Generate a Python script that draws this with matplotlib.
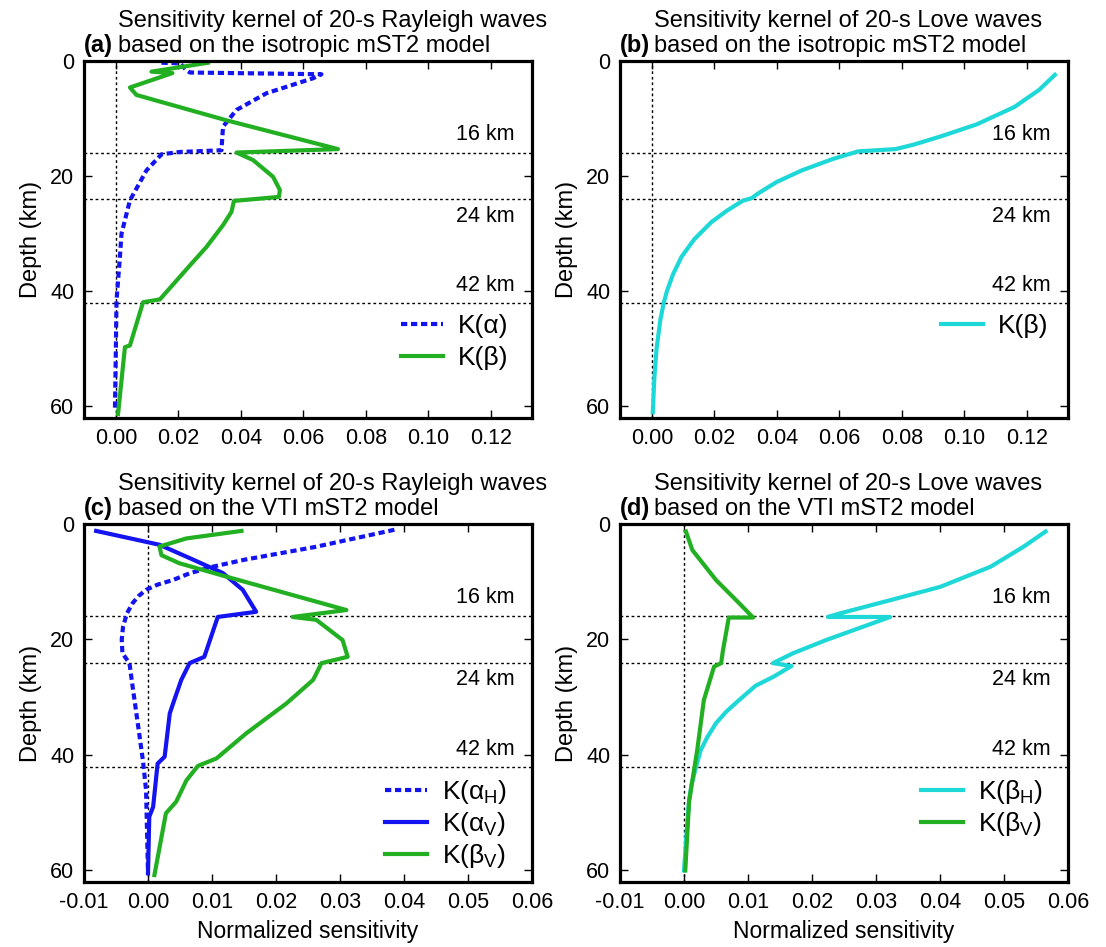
import matplotlib
matplotlib.use("Agg")
import matplotlib.pyplot as plt
import matplotlib.transforms as mtransforms

plt.rcParams['font.family'] = ['Liberation Sans', 'DejaVu Sans']
plt.rcParams['mathtext.fontset'] = 'custom'
plt.rcParams['mathtext.rm'] = 'Liberation Sans'
plt.rcParams['mathtext.it'] = 'Liberation Sans:italic'
plt.rcParams['mathtext.bf'] = 'Liberation Sans:bold'

BLUE = '#1414f0'
GREEN = '#22b022'
CYAN = '#1ed8d8'

# ---- data (depth in km, normalized sensitivity) ----
# (a) Rayleigh, isotropic model
a_alpha_depth = [0.3, 0.4, 1.6, 2.0, 2.3, 3.0, 5.6, 8.5, 11.4, 15.5, 15.8, 16.2, 19.0, 24.2, 30.0, 34.0, 41.6, 50.0, 60.7]
a_alpha_val = [0.0146, 0.0205, 0.0226, 0.0237, 0.0658, 0.0631, 0.0482, 0.0386, 0.0343, 0.0338, 0.0205, 0.0146, 0.0098, 0.0045, 0.0018, 0.0013, 0.0002, 0.0, -0.0003]
a_beta_depth = [0.3, 1.85, 2.1, 4.6, 5.9, 10.3, 15.3, 15.9, 17.2, 20.1, 22.4, 23.6, 24.3, 26.2, 28.5, 32.3, 35.5, 41.4, 41.9, 49.4, 49.7, 61.3]
a_beta_val = [0.0295, 0.0114, 0.0181, 0.0045, 0.0066, 0.0354, 0.0711, 0.0386, 0.0439, 0.0503, 0.0525, 0.0522, 0.0378, 0.0370, 0.0343, 0.0290, 0.0237, 0.0141, 0.0087, 0.0045, 0.0029, 0.0007]

# (b) Love, isotropic model
b_beta_depth = [2.4, 5.0, 8.0, 11.0, 13.0, 14.5, 15.3, 15.7, 17.0, 19.0, 21.0, 23.0, 23.8, 24.3, 26.0, 28.0, 31.0, 34.0, 37.0, 40.0, 42.0, 45.0, 50.0, 55.0, 61.0]
b_beta_val = [0.129, 0.124, 0.116, 0.104, 0.093, 0.084, 0.078, 0.066, 0.058, 0.048, 0.040, 0.034, 0.032, 0.029, 0.024, 0.019, 0.0135, 0.0095, 0.0068, 0.0048, 0.0038, 0.0027, 0.0015, 0.0008, 0.0003]

# (c) Rayleigh, VTI model
c_alphaH_depth = [1.0, 2.8, 4.0, 5.1, 6.2, 7.4, 8.5, 9.7, 10.5, 11.4, 12.5, 13.7, 15.5, 17.8, 20.0, 22.4, 24.1, 28.2, 34.5, 40.9, 46.1, 60.5]
c_alphaH_val = [0.0385, 0.031, 0.026, 0.0205, 0.015, 0.0101, 0.0066, 0.0039, 0.0015, -0.0003, -0.0015, -0.0024, -0.0033, -0.0039, -0.0041, -0.004, -0.0029, -0.0024, -0.0016, -0.0008, -0.0003, 0.0]
c_alphaV_depth = [1.2, 3.6, 5.9, 8.5, 11.4, 15.2, 16.1, 23.0, 24.1, 27.0, 30.5, 32.8, 40.3, 41.5, 49.0, 50.7, 60.5]
c_alphaV_val = [-0.0081, 0.0018, 0.0065, 0.0117, 0.0148, 0.0169, 0.0109, 0.0088, 0.0065, 0.0052, 0.0041, 0.0034, 0.0026, 0.0015, 0.0008, 0.0002, 0.0]
c_betaV_depth = [1.2, 2.5, 3.9, 5.4, 6.8, 9.1, 14.9, 16.1, 16.6, 20.1, 23.0, 24.1, 25.9, 27.0, 31.1, 36.3, 40.6, 41.9, 44.4, 48.1, 50.1, 60.8]
c_betaV_val = [0.0146, 0.006, 0.0018, 0.0021, 0.0049, 0.0122, 0.031, 0.0226, 0.0263, 0.0304, 0.0312, 0.0271, 0.0263, 0.0258, 0.0216, 0.0153, 0.0107, 0.0078, 0.006, 0.0044, 0.0028, 0.001]

# (d) Love, VTI model
d_betaH_depth = [1.3, 3.9, 7.4, 10.9, 13.2, 15.5, 16.1, 16.1, 20.1, 22.4, 24.1, 24.6, 26.5, 28.0, 30.5, 32.5, 34.5, 37.0, 39.2, 42.0, 45.0, 47.8, 52.0, 60.0]
d_betaH_val = [0.0565, 0.0531, 0.0479, 0.040, 0.0322, 0.0243, 0.0225, 0.0322, 0.0222, 0.017, 0.0139, 0.0168, 0.0139, 0.0112, 0.0086, 0.0066, 0.005, 0.0036, 0.0026, 0.0019, 0.0012, 0.0008, 0.0005, 0.0]
d_betaV_depth = [1.3, 4.5, 9.7, 13.7, 16.2, 16.2, 21.8, 24.1, 24.7, 30.5, 38.9, 48.0, 60.0]
d_betaV_val = [0.0003, 0.0013, 0.005, 0.0086, 0.0108, 0.007, 0.0061, 0.0058, 0.0047, 0.0031, 0.0021, 0.0008, 0.0002]

interfaces = [16, 24, 42]
interface_labels = ['16 km', '24 km', '42 km']
label_depths = [12.8, 27.0, 39.0]

titles = [
    ('(a)', 'Sensitivity kernel of 20-s Rayleigh waves\nbased on the isotropic mST2 model'),
    ('(b)', 'Sensitivity kernel of 20-s Love waves\nbased on the isotropic mST2 model'),
    ('(c)', 'Sensitivity kernel of 20-s Rayleigh waves\nbased on the VTI mST2 model'),
    ('(d)', 'Sensitivity kernel of 20-s Love waves\nbased on the VTI mST2 model'),
]

W, H = 1106, 947
fig = plt.figure(figsize=(W / 100, H / 100), dpi=100)


def px_axes(x0, y0, x1, y1):
    return fig.add_axes([x0 / W, 1 - y1 / H, (x1 - x0) / W, (y1 - y0) / H])


ax_a = px_axes(84, 61, 532, 418)
ax_b = px_axes(620, 61, 1068, 418)
ax_c = px_axes(84, 524, 532, 882)
ax_d = px_axes(620, 524, 1068, 882)
axes = [ax_a, ax_b, ax_c, ax_d]

dot = (0, (1.5, 0.9))

for ax, (tag, title) in zip(axes, titles):
    ax.set_ylim(62, 0)
    ax.set_yticks([0, 20, 40, 60])
    for sp in ax.spines.values():
        sp.set_linewidth(2.3)
    ax.tick_params(direction='in', top=True, right=True, length=6, width=1,
                   labelsize=15.5, pad=7)
    ax.set_ylabel('Depth (km)', fontsize=17, labelpad=6)
    ax.axvline(0, color='k', lw=1, ls=(0, (2, 2)), zorder=1)
    trans = mtransforms.blended_transform_factory(ax.transAxes, ax.transData)
    for z, lab, zl in zip(interfaces, interface_labels, label_depths):
        ax.axhline(z, color='k', lw=1, ls=(0, (2, 2)), zorder=1)
        ax.text(0.962, zl, lab, transform=trans, ha='right', va='center', fontsize=15.5)
    ax.annotate(title, xy=(0, 1), xycoords='axes fraction', xytext=(34, 4),
                textcoords='offset pixels', ha='left', va='bottom',
                fontsize=17, linespacing=1.17)
    ax.annotate(tag, xy=(0, 1), xycoords='axes fraction', xytext=(0, 4),
                textcoords='offset pixels', ha='left', va='bottom',
                fontsize=17, fontweight='bold')

for ax in (ax_a, ax_b):
    ax.set_xlim(-0.0102, 0.1332)
    ax.set_xticks([0, 0.02, 0.04, 0.06, 0.08, 0.10, 0.12])
    ax.set_xticklabels(['0.00', '0.02', '0.04', '0.06', '0.08', '0.10', '0.12'])

for ax in (ax_c, ax_d):
    ax.set_xlim(-0.01, 0.06)
    ax.set_xticks([-0.01, 0, 0.01, 0.02, 0.03, 0.04, 0.05, 0.06])
    ax.set_xticklabels(['-0.01', '0.00', '0.01', '0.02', '0.03', '0.04', '0.05', '0.06'])
    ax.set_xlabel('Normalized sensitivity', fontsize=16.5, labelpad=5)

lw = 3
ax_a.plot(a_alpha_val, a_alpha_depth, color=BLUE, lw=lw, ls=dot, label='K(α)')
ax_a.plot(a_beta_val, a_beta_depth, color=GREEN, lw=lw, label='K(β)')

ax_b.plot(b_beta_val, b_beta_depth, color=CYAN, lw=lw, label='K(β)')

ax_c.plot(c_alphaH_val, c_alphaH_depth, color=BLUE, lw=lw, ls=dot, label=r'K(α$_{\rm H}$)')
ax_c.plot(c_alphaV_val, c_alphaV_depth, color=BLUE, lw=lw, label=r'K(α$_{\rm V}$)')
ax_c.plot(c_betaV_val, c_betaV_depth, color=GREEN, lw=lw, label=r'K(β$_{\rm V}$)')

ax_d.plot(d_betaH_val, d_betaH_depth, color=CYAN, lw=lw, label=r'K(β$_{\rm H}$)')
ax_d.plot(d_betaV_val, d_betaV_depth, color=GREEN, lw=lw, label=r'K(β$_{\rm V}$)')

leg_kw = dict(frameon=False, fontsize=19, handlelength=1.6, handletextpad=0.55,
              borderpad=0, borderaxespad=0, loc='upper left', labelspacing=0.3)
ax_a.legend(bbox_to_anchor=(0.707, 0.29), **leg_kw)
ax_b.legend(bbox_to_anchor=(0.716, 0.29), **leg_kw)
ax_c.legend(bbox_to_anchor=(0.672, 0.29), **dict(leg_kw, labelspacing=0.15))
ax_d.legend(bbox_to_anchor=(0.672, 0.29), **dict(leg_kw, labelspacing=0.15))

fig.savefig('out.png', dpi=100)
